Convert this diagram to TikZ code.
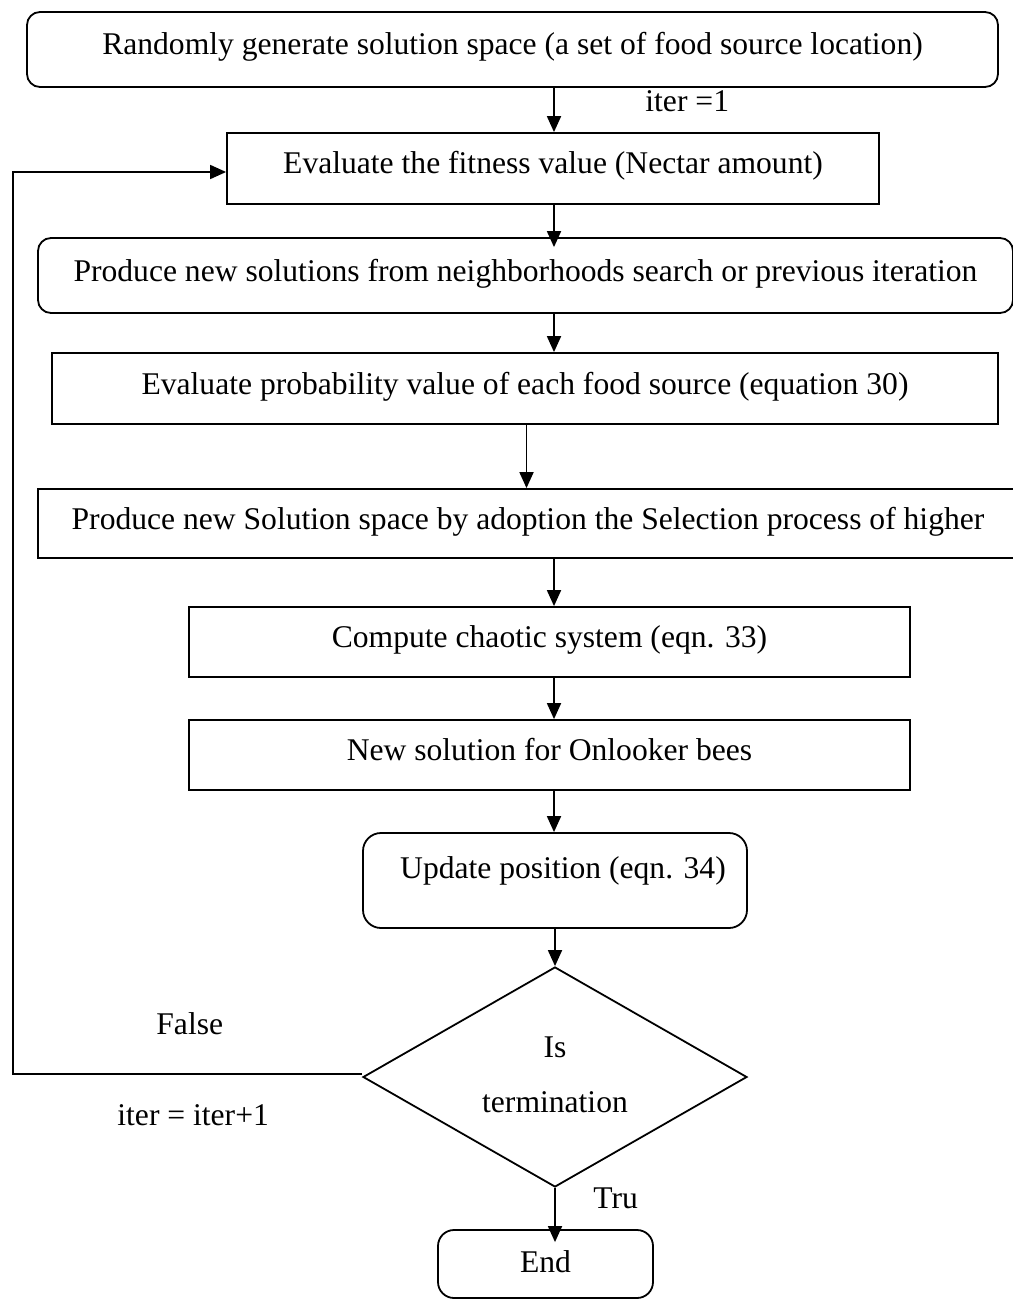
\documentclass[tikz,border=0pt]{standalone}
\usepackage{fontspec}
\setmainfont{Liberation Serif}
\usetikzlibrary{shapes.geometric,arrows.meta}
\begin{document}
\begin{tikzpicture}[x=0.5pt,y=-0.5pt,
  every node/.style={font=\fontsize{15.8}{19}\selectfont},
  stepbox/.style={draw,line width=0.9pt,inner sep=0pt,text height=11pt,text depth=5.5pt},
  roundbox/.style={stepbox,rounded corners=6.5pt},
  flow/.style={line width=0.9pt,-{Triangle[length=8pt,width=7pt]}},
  lbl/.style={inner sep=0pt,anchor=base west},
  clbl/.style={inner sep=0pt,anchor=base}]

\useasboundingbox (0,0) rectangle (1012,1300);

% process steps
\node[roundbox,minimum width=485.5pt,minimum height=37.5pt] (init) at (512.5,49.5)
  {Randomly generate solution space (a set of food source location)};
\node[stepbox,minimum width=326pt,minimum height=35.5pt] (fit) at (553,168.5)
  {Evaluate the fitness value (Nectar amount)};
\node[roundbox,minimum width=487.5pt,minimum height=37.5pt] (nbr) at (525.5,275.5)
  {Produce new solutions from neighborhoods search or previous iteration};
\node[stepbox,minimum width=473pt,minimum height=35.5pt] (prob) at (525,388.5)
  {Evaluate probability value of each food source (equation 30)};
\node[stepbox,minimum width=490pt,minimum height=34.5pt] (sel) at (528,523.5)
  {Produce new Solution space by adoption the Selection process of higher};
\node[stepbox,minimum width=360.5pt,minimum height=35pt] (chaos) at (549.5,642)
  {Compute chaotic system (eqn. 33)};
\node[stepbox,minimum width=360.5pt,minimum height=35pt] (onl) at (549.5,755)
  {New solution for Onlooker bees};
\node[roundbox,rounded corners=9pt,minimum width=192pt,minimum height=47.5pt,
  text depth=13.5pt] (upd) at (555,880.5) {\hspace*{8pt}Update position (eqn. 34)};

% decision
\node[draw,diamond,line width=0.9pt,minimum width=192pt,minimum height=110pt,
  inner sep=0pt] (term) at (555,1077) {};
\node[clbl] (isl) at (555,1057) {Is};
\node[clbl] (tml) at (555,1112) {termination};

\node[roundbox,rounded corners=8pt,minimum width=107.5pt,minimum height=34pt,
  text height=13.5pt] (fin) at (545.5,1264) {End};

% labels
\node[lbl] (it1) at (645,112) {iter =1};
\node[lbl] (fls) at (156,1034) {False};
\node[lbl] (itn) at (117,1125) {iter = iter+1};
\node[lbl] (tru) at (593,1208) {Tru};

% connectors
\coordinate (ax) at (554,0);
\coordinate (ax2) at (526.5,0);
\coordinate (lp) at (13,0);
\draw[flow] (ax |- init.south) -- (ax |- fit.north);
\draw[flow,shorten >=-5pt] (ax |- fit.south) -- (ax |- nbr.north);
\draw[flow] (ax |- nbr.south) -- (ax |- prob.north);
\draw[flow] (ax2 |- prob.south) -- (ax2 |- sel.north);
\draw[flow] (ax |- sel.south) -- (ax |- chaos.north);
\draw[flow] (ax |- chaos.south) -- (ax |- onl.north);
\draw[flow] (ax |- onl.south) -- (ax |- upd.north);
\draw[flow] (upd.south) -- (term.north);
\draw[flow,shorten >=-6.5pt] (term.south) -- (term.south |- fin.north);
\coordinate (lpa) at ([yshift=1.5pt]term.west);
\coordinate (lpb) at ([yshift=-1.75pt]fit.west);
\draw[flow] (lpa) -- (lpa -| lp) |- (lpb);
\end{tikzpicture}
\end{document}
